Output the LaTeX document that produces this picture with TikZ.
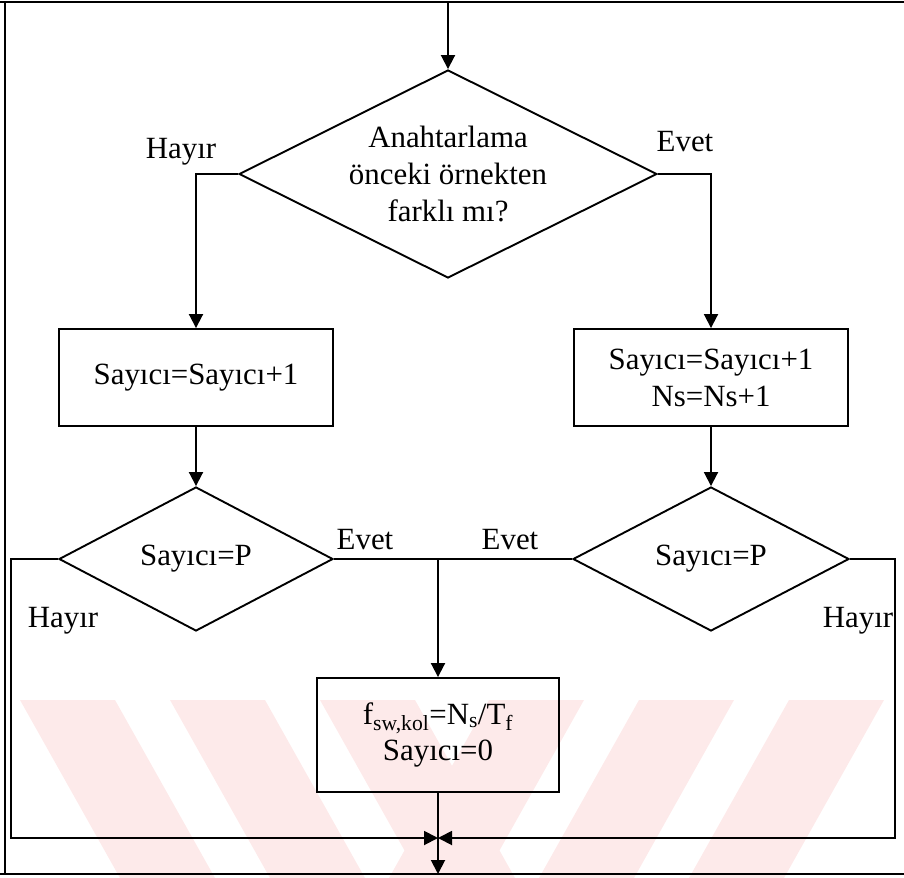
\documentclass[tikz,border=0pt]{standalone}
\usepackage{fontspec}
\setmainfont{Liberation Serif}
\usetikzlibrary{shapes.geometric,arrows.meta}
\definecolor{wmark}{RGB}{253,234,234}
\begin{document}
\begin{tikzpicture}[x=1bp,y=-1bp,
  every node/.style={font=\fontsize{31}{37}\selectfont},
  flow/.style={line width=1.9bp},
  arr/.style={flow,-{Triangle[length=14bp,width=14bp]}},
  decision/.style={draw,flow,diamond,shape aspect=2,inner sep=0pt,align=center},
  procbox/.style={draw,flow,rectangle,inner sep=0pt,align=center},
  tag/.style={anchor=base,inner sep=0pt}]
\useasboundingbox (0,0) rectangle (904,878);

% pale striped watermark behind the lower part
\begin{scope}
  \clip (0,700) rectangle (904,878);
  \foreach \s in {20,170,320}
    \fill[wmark] (\s,700) -- ++(95,0) -- ++(100,178) -- ++(-95,0) -- cycle;
  \foreach \s in {884,734,584}
    \fill[wmark] (\s,700) -- ++(-95,0) -- ++(-100,178) -- ++(95,0) -- cycle;
\end{scope}

% frame
\draw[flow] (0,2) -- (904,2);
\draw[flow] (5,2) -- (5,874);
\draw[flow] (0,874) -- (904,874);

% blocks
\node[decision, minimum width=418bp, minimum height=208bp] (q1) at (448,174)
  {Anahtarlama\\önceki örnekten\\farklı mı?};
\node[procbox, minimum width=274bp, minimum height=97bp] (c1) at (196,377.5) {Sayıcı=Sayıcı+1};
\node[procbox, minimum width=274bp, minimum height=97bp] (c2) at (711,377.5) {Sayıcı=Sayıcı+1\\Ns=Ns+1};
\node[decision, minimum width=274bp, minimum height=144bp] (p1) at (196,559) {Sayıcı=P};
\node[decision, minimum width=276bp, minimum height=144bp] (p2) at (711,559) {Sayıcı=P};
\node[procbox, minimum width=242bp, minimum height=114bp] (r) at (438,735)
  {f\textsubscript{sw,kol}=N\textsubscript{s}/T\textsubscript{f}\\Sayıcı=0};

% helper points for the connectors
\coordinate (entry) at (448,2);
\coordinate (join) at (438,559);
\coordinate (lcorner) at (11,559);
\coordinate (rcorner) at (895,559);
\coordinate (merge) at (438,838);
\coordinate (exit) at (438,874);

% connectors
\draw[arr] (entry) -- (q1.north);
\draw[arr] (q1.west) -| (c1.north);
\draw[arr] (q1.east) -| (c2.north);
\draw[arr] (c1.south) -- (p1.north);
\draw[arr] (c2.south) -- (p2.north);
\draw[flow] (p1.east) -- (p2.west);
\draw[arr] (join) -- (r.north);
\draw[arr] (p1.west) -- (lcorner) |- (merge);
\draw[arr] (p2.east) -- (rcorner) |- (merge);
\draw[arr] (r.south) -- (exit);

% branch labels
\node[tag] (h1) at (181,158) {Hayır};
\node[tag] (e1) at (685,151) {Evet};
\node[tag] (e2) at (365,549) {Evet};
\node[tag] (e3) at (510,549) {Evet};
\node[tag] (h2) at (63,627) {Hayır};
\node[tag] (h3) at (858,627) {Hayır};
\end{tikzpicture}
\end{document}
